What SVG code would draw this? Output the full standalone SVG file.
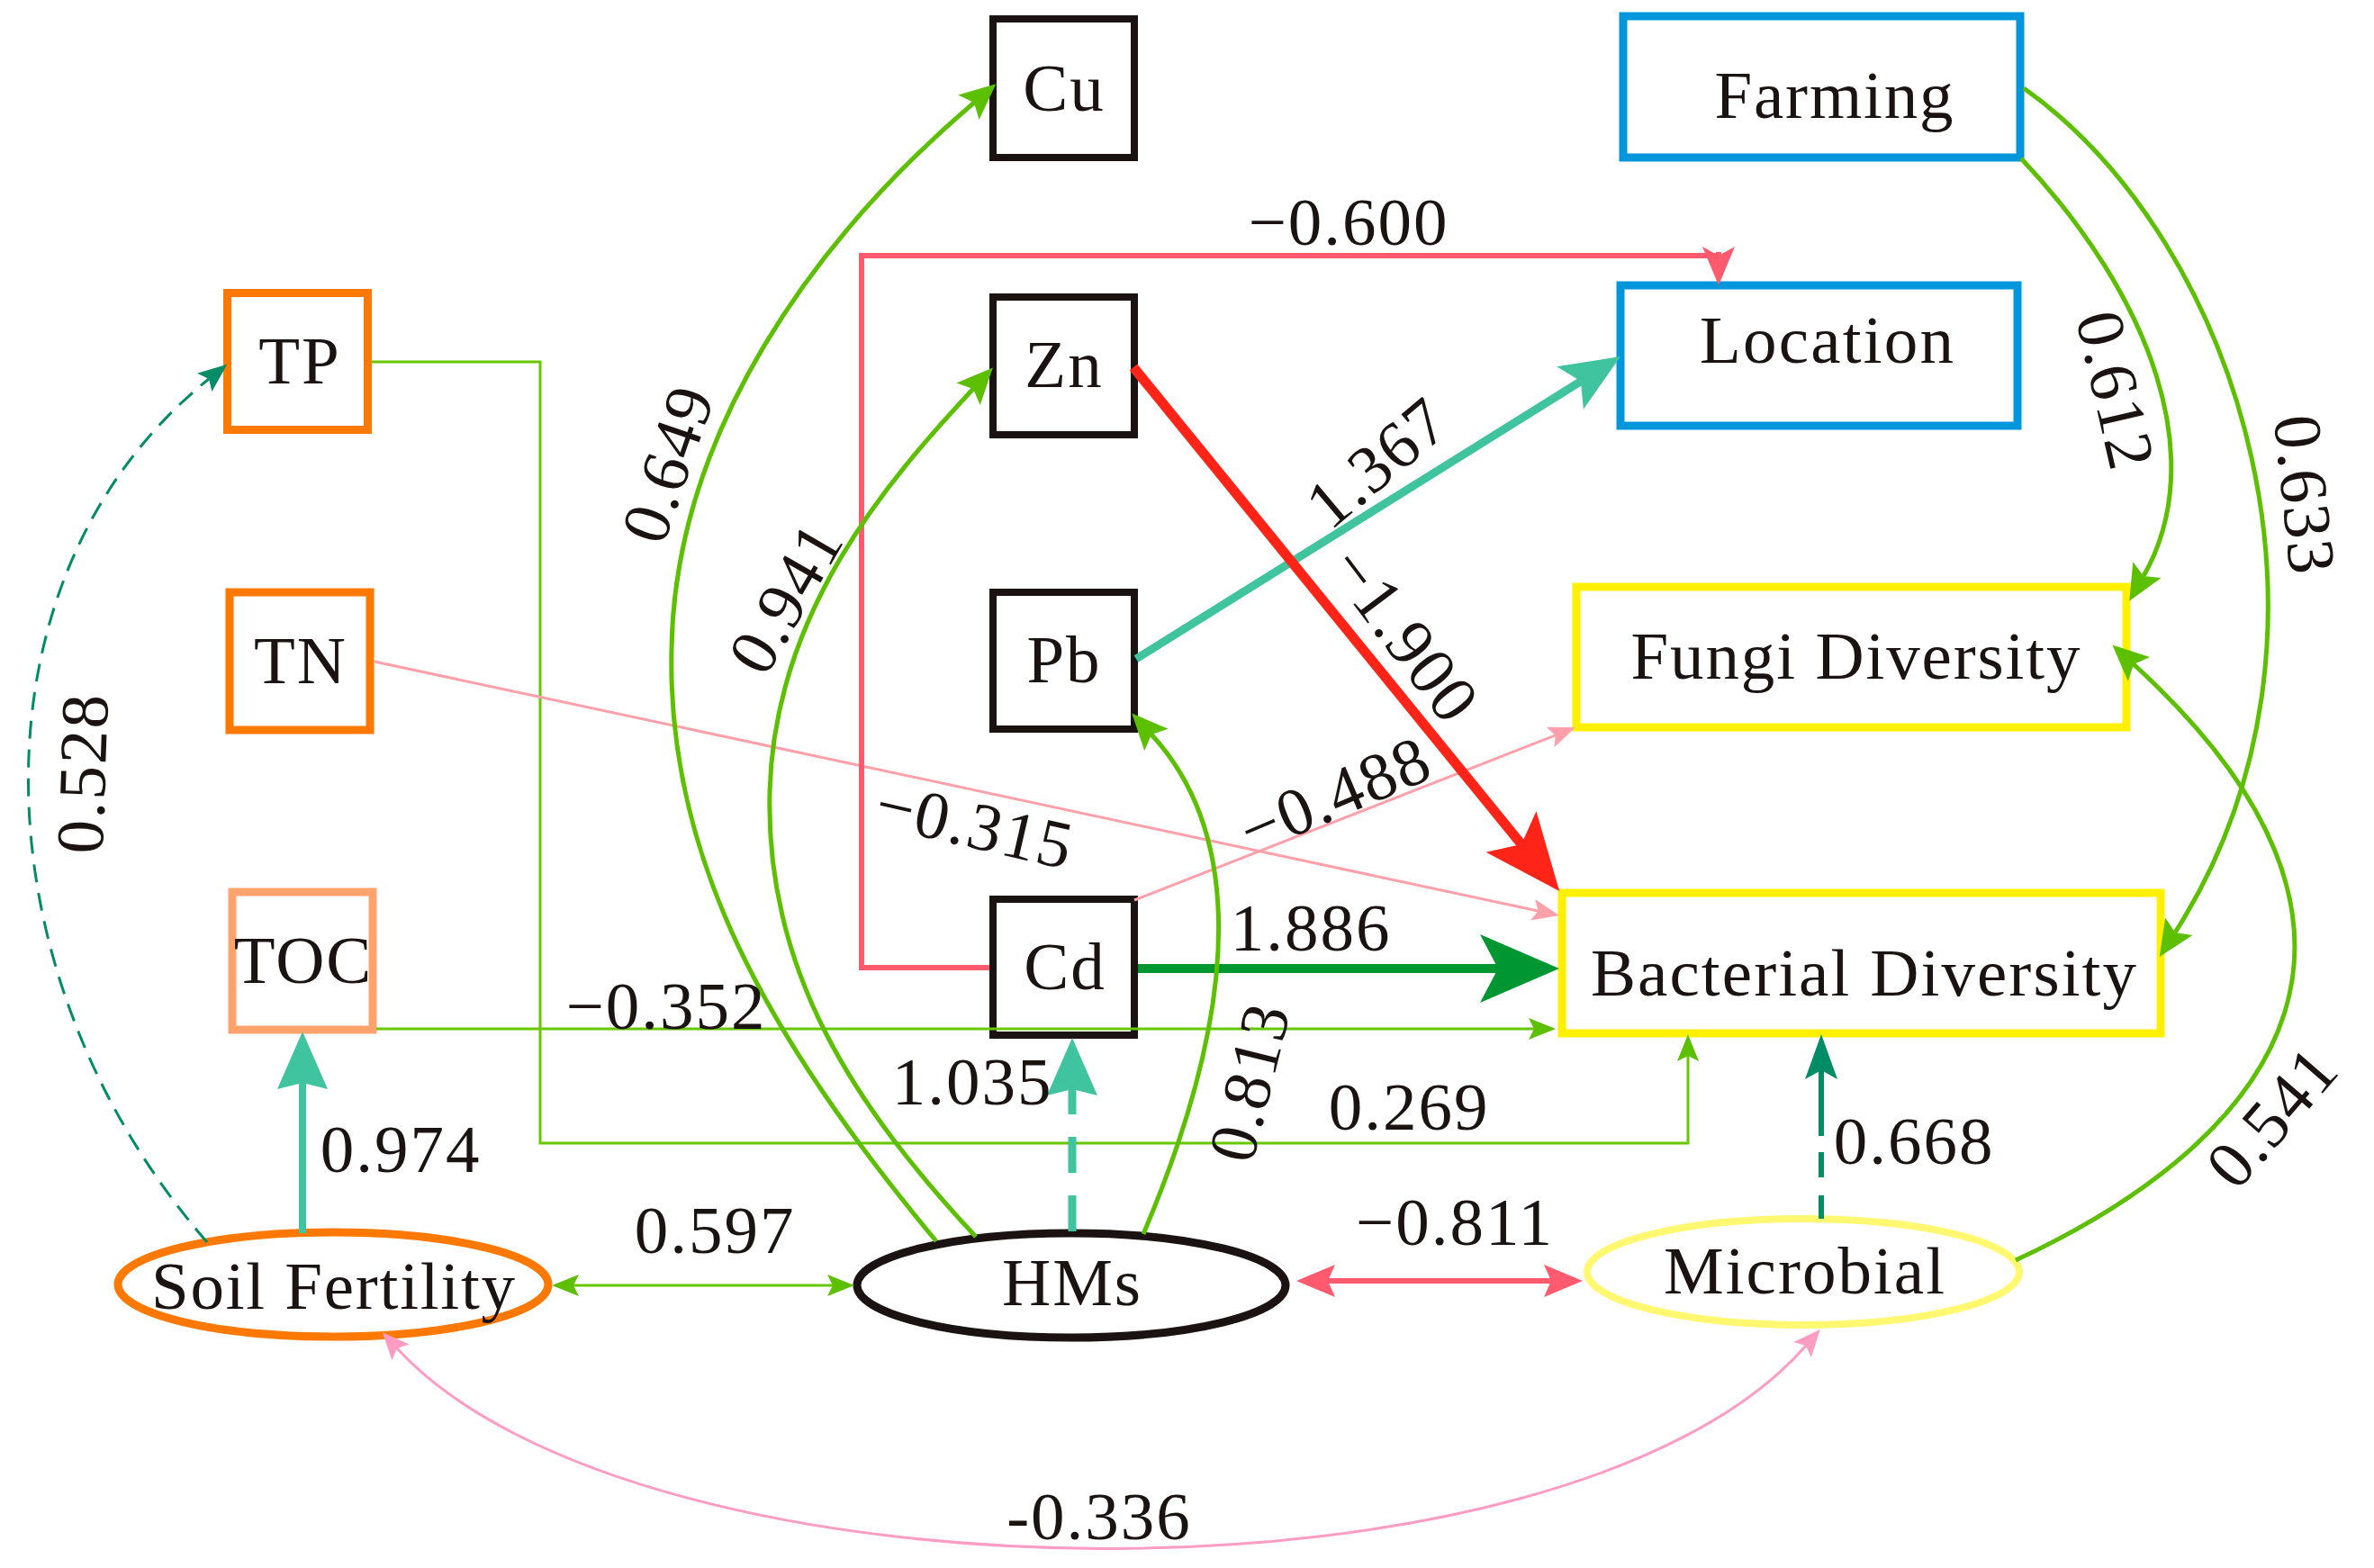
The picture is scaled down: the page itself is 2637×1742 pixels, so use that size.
<svg xmlns="http://www.w3.org/2000/svg" width="2637" height="1742" viewBox="0 0 2637 1742">
<defs>
<style>
text { font-family: "Liberation Serif", "Times New Roman", serif; font-size: 75px; fill: #1a1311; letter-spacing: 2px; text-anchor: middle; }
.nbox { fill: #ffffff; stroke-width: 9; }
.blk { stroke: #1a1311; stroke-width: 8; fill: #ffffff; }
.org { stroke: #ff7800; }
.toc { stroke: #ffa26c; }
.blu { stroke: #0096dc; }
.yel { stroke: #fff000; }
.c { fill: none; }
.green { stroke: #5cbf00; stroke-width: 5; }
.gthin { stroke: #66c800; stroke-width: 3; }
.pink { stroke: #ffa0aa; stroke-width: 3; }
.pink2 { stroke: #ff9cc4; stroke-width: 3; }
.pred { stroke: #ff5a6e; stroke-width: 6; }
</style>
<marker id="mRed" markerUnits="userSpaceOnUse" orient="auto-start-reverse" overflow="visible" markerWidth="10" markerHeight="10" refX="0" refY="0"><path d="M67,0 L-18,-36 L0,0 L-18,36 Z" fill="#ff2418"/></marker>
<marker id="mDkGreen" markerUnits="userSpaceOnUse" orient="auto-start-reverse" overflow="visible" markerWidth="10" markerHeight="10" refX="0" refY="0"><path d="M68,0 L-20,-38 L0,0 L-20,38 Z" fill="#009632"/></marker>
<marker id="mTealBig" markerUnits="userSpaceOnUse" orient="auto-start-reverse" overflow="visible" markerWidth="10" markerHeight="10" refX="0" refY="0"><path d="M52,0 L-14,-28 L0,0 L-14,28 Z" fill="#40c4a0"/></marker>
<marker id="mTeal" markerUnits="userSpaceOnUse" orient="auto-start-reverse" overflow="visible" markerWidth="10" markerHeight="10" refX="0" refY="0"><path d="M57,0 L-7,-28 L0,0 L-7,28 Z" fill="#40c4a0"/></marker>
<marker id="mDkTeal" markerUnits="userSpaceOnUse" orient="auto-start-reverse" overflow="visible" markerWidth="10" markerHeight="10" refX="0" refY="0"><path d="M40,0 L-10,-18 L0,0 L-10,18 Z" fill="#008c64"/></marker>
<marker id="mDkTealS" markerUnits="userSpaceOnUse" orient="auto-start-reverse" overflow="visible" markerWidth="10" markerHeight="10" refX="0" refY="0"><path d="M26,0 L-6,-13 L0,0 L-6,13 Z" fill="#008c64"/></marker>
<marker id="mGreen" markerUnits="userSpaceOnUse" orient="auto-start-reverse" overflow="visible" markerWidth="10" markerHeight="10" refX="0" refY="0"><path d="M32,0 L-8,-18 L0,0 L-8,18 Z" fill="#5cbf00"/></marker>
<marker id="mGreenS" markerUnits="userSpaceOnUse" orient="auto-start-reverse" overflow="visible" markerWidth="10" markerHeight="10" refX="0" refY="0"><path d="M24,0 L-6,-12 L0,0 L-6,12 Z" fill="#5cbf00"/></marker>
<marker id="mPinkRed" markerUnits="userSpaceOnUse" orient="auto-start-reverse" overflow="visible" markerWidth="10" markerHeight="10" refX="0" refY="0"><path d="M35,0 L-8,-18 L0,0 L-8,18 Z" fill="#ff5a6e"/></marker>
<marker id="mPinkRedD" markerUnits="userSpaceOnUse" orient="auto-start-reverse" overflow="visible" markerWidth="10" markerHeight="10" refX="0" refY="0"><path d="M33,0 L-10,-18 L0,0 L-10,18 Z" fill="#ff5a6e"/></marker>
<marker id="mPink" markerUnits="userSpaceOnUse" orient="auto-start-reverse" overflow="visible" markerWidth="10" markerHeight="10" refX="0" refY="0"><path d="M24,0 L-6,-12 L0,0 L-6,12 Z" fill="#ffa0aa"/></marker>
<marker id="mPink2" markerUnits="userSpaceOnUse" orient="auto-start-reverse" overflow="visible" markerWidth="10" markerHeight="10" refX="0" refY="0"><path d="M24,0 L-6,-13 L0,0 L-6,13 Z" fill="#ff9cc4"/></marker>
</defs>
<rect x="0" y="0" width="2637" height="1742" fill="#ffffff"/>

<g id="node-cu"><rect class="blk" x="1103" y="21" width="157" height="154"/><text x="1182" y="123">Cu</text></g>
<g id="node-zn"><rect class="blk" x="1103" y="330" width="157" height="153"/><text x="1182" y="430">Zn</text></g>
<g id="node-pb"><rect class="blk" x="1103" y="658" width="157" height="152"/><text x="1182" y="758">Pb</text></g>
<g id="node-cd"><rect class="blk" x="1103" y="999" width="157" height="151"/><text x="1183" y="1099">Cd</text></g>
<g id="node-tp"><rect class="nbox org" x="252.5" y="325.5" width="156" height="152"/><text x="333" y="426">TP</text></g>
<g id="node-tn"><rect class="nbox org" x="255" y="658" width="156" height="153"/><text x="334" y="759">TN</text></g>
<g id="node-toc"><rect class="nbox toc" x="258" y="991" width="156" height="153"/><text x="337" y="1092" letter-spacing="0">TOC</text></g>
<g id="node-farming"><rect class="nbox blu" x="1803" y="18" width="441" height="157"/><text x="2038" y="131" textLength="267" lengthAdjust="spacing">Farming</text></g>
<g id="node-location"><rect class="nbox blu" x="1800" y="317" width="441" height="156"/><text x="2030" y="403" textLength="284" lengthAdjust="spacing">Location</text></g>
<g id="node-fungi"><rect class="nbox yel" x="1751" y="652" width="611" height="156"/><text x="2062" y="754" textLength="501" lengthAdjust="spacing">Fungi Diversity</text></g>
<g id="node-bacterial"><rect class="nbox yel" x="1735" y="992" width="665" height="156"/><text x="2071" y="1106" textLength="608" lengthAdjust="spacing">Bacterial Diversity</text></g>
<g id="node-soil"><ellipse cx="370" cy="1427" rx="239" ry="58" fill="#ffffff" stroke="#ff7800" stroke-width="9"/><text x="371" y="1454" textLength="406" lengthAdjust="spacing">Soil Fertility</text></g>
<g id="node-hms"><ellipse cx="1190" cy="1428" rx="238" ry="58" fill="#ffffff" stroke="#1a1311" stroke-width="9"/><text x="1191" y="1450">HMs</text></g>
<g id="node-microbial"><ellipse cx="2003" cy="1413" rx="240" ry="59" fill="#ffffff" stroke="#fff870" stroke-width="8"/><text x="2005" y="1437" textLength="314" lengthAdjust="spacing">Microbial</text></g>

<g id="connectors" fill="none">
<path class="c gthin" d="M413,402 H600 V1270 H1875 V1173" marker-end="url(#mGreenS)"/>
<path class="c pink" d="M416,735 L1708.5,1012" marker-end="url(#mPink)"/>
<path class="c gthin" d="M418,1143 H1704" marker-end="url(#mGreenS)"/>
<path class="c pink" d="M1260,1000 L1727.7,816.8" marker-end="url(#mPink)"/>
<path class="c pred" d="M1099,1075 H957 V284 H1909 M1909,280 V284" marker-end="url(#mPinkRedD)"/>
<path class="c" d="M1262,732 L1755.9,423.6" stroke="#40c4a0" stroke-width="9" marker-end="url(#mTealBig)"/>
<path class="c" d="M1259,408 L1689.9,937.9" stroke="#ff2418" stroke-width="11" marker-end="url(#mRed)"/>
<path class="c" d="M1264,1076 H1664" stroke="#009632" stroke-width="10" marker-end="url(#mDkGreen)"/>
<path class="c green" d="M1040,1379 C850,1150 740,950 746,720 C750,480 905,265 1082,114" marker-end="url(#mGreen)"/>
<path class="c green" d="M1084,1374 C950,1230 850,1080 855,880 C860,680 985,535 1081,432" marker-end="url(#mGreen)"/>
<path class="c green" d="M1270,1371 C1385,1100 1375,920 1279,816" marker-end="url(#mGreen)"/>
<path class="c green" d="M2245,176 C2390,330 2455,510 2381,640" marker-end="url(#mGreen)"/>
<path class="c green" d="M2248,98 C2490,270 2625,710 2416,1036" marker-end="url(#mGreen)"/>
<path class="c green" d="M2239,1400 C2540,1260 2690,1030 2370,738" marker-end="url(#mGreen)"/>
<path class="c" d="M230,1380 C-30,1080 -40,640 232,421" stroke="#008c64" stroke-width="3" stroke-dasharray="20 12" marker-end="url(#mDkTealS)"/>
<path class="c" d="M336,1370 V1203" stroke="#40c4a0" stroke-width="8" marker-end="url(#mTeal)"/>
<path class="c" d="M1191,1210 V1369" stroke="#40c4a0" stroke-width="9" stroke-dasharray="28 25 40 25 40" marker-start="url(#mTeal)"/>
<path class="c" d="M2023,1189 V1354" stroke="#008c64" stroke-width="6" stroke-dasharray="73 18 28 20 28 20" marker-start="url(#mDkTeal)"/>
<path class="c gthin" d="M637,1428 H925" marker-start="url(#mGreenS)" marker-end="url(#mGreenS)"/>
<path class="c pred" d="M1475,1423 H1723" marker-start="url(#mPinkRed)" marker-end="url(#mPinkRed)"/>
<path class="c pink2" d="M441,1498 C710,1790 1740,1800 2006,1495" marker-start="url(#mPink2)" marker-end="url(#mPink2)"/>
</g>

<g id="labels">
<text x="1498" y="272">−0.600</text>
<text x="1456" y="1056">1.886</text>
<text x="740" y="1143">−0.352</text>
<text x="1080" y="1227">1.035</text>
<text x="1565" y="1255">0.269</text>
<text x="445" y="1302">0.974</text>
<text x="794" y="1392">0.597</text>
<text x="1616" y="1383">−0.811</text>
<text x="2126" y="1293">0.668</text>
<text x="1221" y="1710">-0.336</text>
<text transform="translate(742,515) rotate(-71)" y="25">0.649</text>
<text transform="translate(873,664) rotate(-60)" y="25">0.941</text>
<text transform="translate(1530,514) rotate(-40)" y="25">1.367</text>
<text transform="translate(1560,705) rotate(53)" y="25">−1.900</text>
<text transform="translate(1483,883) rotate(-23)" y="25">−0.488</text>
<text transform="translate(1083,917) rotate(13)" y="25">−0.315</text>
<text transform="translate(1388,1202) rotate(-76)" y="25">0.813</text>
<text transform="translate(2350,434) rotate(77)" y="25">0.612</text>
<text transform="translate(2560,550) rotate(84)" y="25">0.633</text>
<text transform="translate(92,859) rotate(-88)" y="25">0.528</text>
<text transform="translate(2524,1241) rotate(-49)" y="25">0.541</text>
</g>
</svg>
